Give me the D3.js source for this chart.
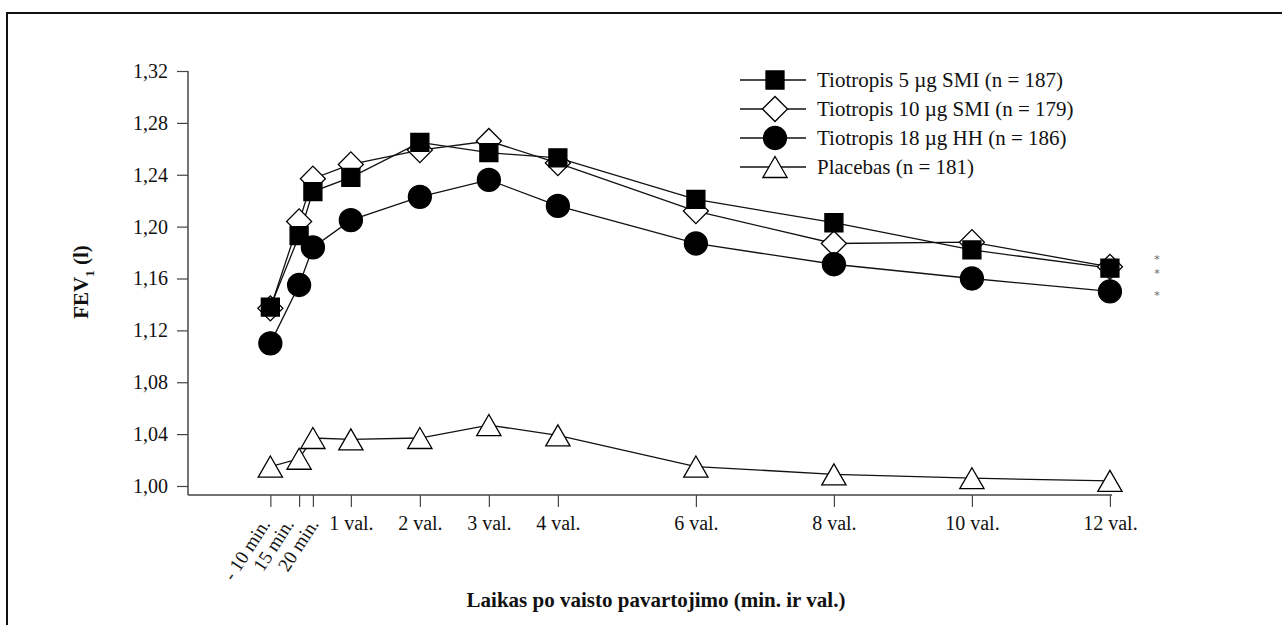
<!DOCTYPE html>
<html>
<head>
<meta charset="utf-8">
<script src="https://cdn.jsdelivr.net/npm/d3@7"></script>
<style>
  html, body { margin: 0; padding: 0; background: #fff; }
  svg text { font-family: "Liberation Serif", "DejaVu Serif", serif; }
</style>
</head>
<body>
<div id="chart"></div>
<script>
// Laikas valandomis (pozicijos nuskaitytos nuo paveikslo)
const timeHours = [-1 / 6, 0.25, 0.45, 1, 2, 3, 4, 6, 8, 10, 12];
const tickLabels = ['- 10 min.', '15 min.', '20 min.', '1 val.', '2 val.', '3 val.', '4 val.', '6 val.', '8 val.', '10 val.', '12 val.'];
const yTicks = [1.00, 1.04, 1.08, 1.12, 1.16, 1.20, 1.24, 1.28, 1.32];

const seriesNames = ['Tiotropis 5 µg SMI (n = 187)', 'Tiotropis 10 µg SMI (n = 179)', 'Tiotropis 18 µg HH (n = 186)', 'Placebas (n = 181)'];
const tio5 = [1.138, 1.193, 1.227, 1.238, 1.265, 1.257, 1.253, 1.221, 1.203, 1.182, 1.168];
const tio10 = [1.137, 1.204, 1.237, 1.248, 1.259, 1.266, 1.249, 1.212, 1.187, 1.188, 1.169];
const tio18 = [1.110, 1.155, 1.184, 1.205, 1.223, 1.236, 1.216, 1.187, 1.171, 1.160, 1.150];
const placebo = [1.015, 1.021, 1.037, 1.036, 1.037, 1.047, 1.039, 1.015, 1.009, 1.006, 1.004];
const asteriskValues = [1.1765, 1.166, 1.149];

const W = 1282, H = 625;
const svg = d3.select('#chart').append('svg')
  .attr('width', W)
  .attr('height', H);

// rėmelis -------------------------------------------------------------
svg.append('path')
  .attr('d', `M7,${H} V13 H${W}`)
  .attr('fill', 'none')
  .attr('stroke', '#111')
  .attr('stroke-width', 2);

// skalės --------------------------------------------------------------
const xScale = d3.scaleLinear().domain([-1.36, 12.03]).range([188, 1112]);
const yScale = d3.scaleLinear().domain([1.00, 1.32]).range([486, 71]);
const axisColor = '#444';
const tickFont = 20;

// y ašis
const yAxis = svg.append('g')
  .attr('transform', 'translate(188,0)')
  .call(d3.axisLeft(yScale).tickValues(yTicks).tickSize(11).tickPadding(9)
    .tickFormat(d => d3.format('.2f')(d).replace('.', ',')));
yAxis.select('.domain').remove();
yAxis.append('line')
  .attr('x1', 0).attr('x2', 0).attr('y1', 71).attr('y2', 495)
  .attr('stroke', axisColor).attr('stroke-width', 1.5);
yAxis.selectAll('.tick line').attr('stroke', axisColor).attr('stroke-width', 1.2);
yAxis.selectAll('.tick text').attr('font-size', tickFont).attr('fill', '#111')
  .style('font-family', '"Liberation Serif", serif');

// x ašis
const xAxis = svg.append('g')
  .attr('transform', 'translate(0,495)')
  .call(d3.axisBottom(xScale).tickValues(timeHours).tickSize(12).tickPadding(9)
    .tickFormat((d, i) => tickLabels[i]));
xAxis.select('.domain').remove();
xAxis.append('line')
  .attr('x1', 188).attr('x2', 1112).attr('y1', 0).attr('y2', 0)
  .attr('stroke', axisColor).attr('stroke-width', 1.5);
xAxis.selectAll('.tick line').attr('stroke', axisColor).attr('stroke-width', 1.2);
xAxis.selectAll('.tick text').attr('font-size', tickFont).attr('fill', '#111')
  .style('font-family', '"Liberation Serif", serif');
// minučių žymės pasuktos, šiek tiek praskleistos kad nesutaptų
const minuteShift = [0, -5, 6];
xAxis.selectAll('.tick text')
  .filter((d, i) => i < 3)
  .attr('text-anchor', 'end')
  .attr('font-size', 19)
  .attr('dy', 0)
  .attr('transform', (d, i) => `translate(${minuteShift[i]},29) rotate(-57)`)
  .attr('y', 0).attr('x', 0);

// ašių pavadinimai
svg.append('text')
  .attr('x', 656).attr('y', 607)
  .attr('text-anchor', 'middle')
  .attr('font-size', 21).attr('font-weight', 'bold').attr('fill', '#111')
  .text('Laikas po vaisto pavartojimo (min. ir val.)');

const yTitle = svg.append('text')
  .attr('transform', 'translate(88,282) rotate(-90)')
  .attr('text-anchor', 'middle')
  .attr('font-size', 21).attr('font-weight', 'bold').attr('fill', '#111');
yTitle.append('tspan').text('FEV');
yTitle.append('tspan').attr('dy', 6).attr('font-size', 13).text('1');
yTitle.append('tspan').attr('dy', -6).text(' (l)');

// serijos -------------------------------------------------------------
const series = [
  { name: seriesNames[0], values: tio5, shape: 'square' },
  { name: seriesNames[1], values: tio10, shape: 'diamond' },
  { name: seriesNames[2], values: tio18, shape: 'circle' },
  { name: seriesNames[3], values: placebo, shape: 'triangle' }
];

const markerPath = {
  square: d3.symbol(d3.symbolSquare, 324)(),
  diamond: d3.symbol(d3.symbolSquare, 313)(),
  circle: d3.symbol(d3.symbolCircle, 415)(),
  triangle: d3.symbol(d3.symbolTriangle, 255)()
};
const markerFill = { square: '#000', diamond: '#fff', circle: '#000', triangle: '#fff' };
const markerTransform = { square: '', diamond: ' rotate(45)', circle: '', triangle: ' translate(0,3.5)' };

const line = d3.line()
  .x((d, i) => xScale(timeHours[i]))
  .y(d => yScale(d));

const drawMarker = (g, shape) => {
  g.append('path')
    .attr('d', markerPath[shape])
    .attr('transform', markerTransform[shape])
    .attr('fill', markerFill[shape])
    .attr('stroke', '#000')
    .attr('stroke-width', 1.3);
};

// linijos pirmiausia, tada žymekliai
series.forEach(s => {
  svg.append('path')
    .datum(s.values)
    .attr('d', line)
    .attr('fill', 'none')
    .attr('stroke', '#111')
    .attr('stroke-width', 1.3);
});
[3, 1, 2, 0].forEach(k => {
  const s = series[k];
  s.values.forEach((v, i) => {
    const g = svg.append('g')
      .attr('transform', `translate(${xScale(timeHours[i])},${yScale(v)})`);
    drawMarker(g, s.shape);
  });
});

// žvaigždutės
svg.selectAll('.star')
  .data(asteriskValues)
  .enter()
  .append('text')
  .attr('class', 'star')
  .attr('x', 1157)
  .attr('y', d => yScale(d) + 6)
  .attr('text-anchor', 'middle')
  .attr('font-size', 11)
  .attr('fill', '#666')
  .style('font-family', '"DejaVu Sans", sans-serif')
  .text('*');

// legenda -------------------------------------------------------------
const legend = svg.append('g');
series.forEach((s, i) => {
  const y = 80 + i * 29;
  legend.append('line')
    .attr('x1', 740).attr('x2', 806).attr('y1', y).attr('y2', y)
    .attr('stroke', '#111').attr('stroke-width', 1.3);
  const g = legend.append('g').attr('transform', `translate(775,${y})`);
  drawMarker(g, s.shape);
  legend.append('text')
    .attr('x', 817).attr('y', y + 7)
    .attr('font-size', 21).attr('fill', '#111')
    .text(s.name);
});
</script>
</body>
</html>
